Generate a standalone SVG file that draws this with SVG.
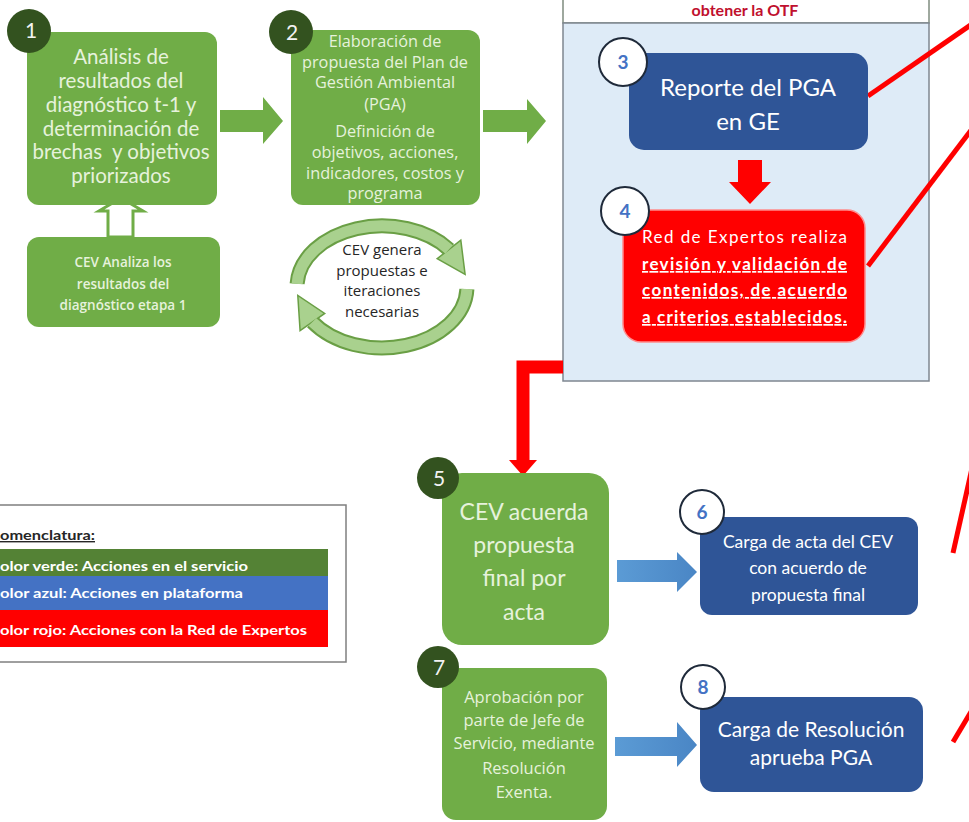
<svg xmlns="http://www.w3.org/2000/svg" width="969" height="822" viewBox="0 0 969 822">
<defs>
<style>
text{font-family:Lato,"Liberation Sans","DejaVu Sans",sans-serif}
.os text{font-family:"Open Sans","Liberation Sans","DejaVu Sans",sans-serif}
.gbox{fill:#70ad47}
.gt{fill:#e6f2dc;text-anchor:middle}
.bbox{fill:#2f5597}
.wt{fill:#ffffff;text-anchor:middle}
.dc{fill:#33521f}
.dn{fill:#f2f2f2;font-size:21px;text-anchor:middle}
.wc{fill:#ffffff;stroke:#1f2a3a;stroke-width:2}
.wn{fill:#4472c4;font-size:19px;font-weight:bold;text-anchor:middle}
.garrow{fill:#70ad47}
.barrow{fill:url(#bg)}
.redline{stroke:#ff0000;stroke-width:5;fill:none}
.lt{fill:#ffffff;font-size:14px;font-weight:bold}
</style>
<linearGradient id="bg" x1="0" y1="0" x2="1" y2="0">
<stop offset="0" stop-color="#5b9bd5"/>
<stop offset="1" stop-color="#4a86c5"/>
</linearGradient>
</defs>
<rect width="969" height="822" fill="#ffffff"/>

<g id="panel">
<rect x="563" y="-2" width="366" height="25" fill="#ffffff" stroke="#7f8c7f" stroke-width="1.5"/>
<text x="745" y="16" font-size="16" font-weight="bold" fill="#c0102e" text-anchor="middle">obtener la OTF</text>
<rect x="563" y="23" width="366" height="358" fill="#deebf7" stroke="#7f8790" stroke-width="1.5"/>
</g>

<g id="connectors">
<polygon class="garrow" points="220,110 263,110 263,97 283,121 263,144 263,132 220,132"/>
<polygon class="garrow" points="483,110 527,110 527,99 546,121 527,144 527,132 483,132"/>
<polygon points="108,237 108,211 99,211 121,198 143,211 133,211 133,237" fill="#ffffff" stroke="#70ad47" stroke-width="3"/>
<g id="cycle">
<path d="M 297.1 283.8 A 85 61 0 0 1 449.0 249.4" fill="none" stroke="#6a9f45" stroke-width="15"/>
<polygon points="460.8,240.2 465.1,274.3 437.2,258.7" fill="#a9d18e" stroke="#6a9f45" stroke-width="1.5"/>
<path d="M 297.1 283.8 A 85 61 0 0 1 449.0 249.4" fill="none" stroke="#a9d18e" stroke-width="11"/>
<path d="M 466.9 289.1 A 85 61 0 0 1 312.4 322.0" fill="none" stroke="#6a9f45" stroke-width="15"/>
<polygon points="300.1,330.6 297.8,295.5 324.7,313.4" fill="#a9d18e" stroke="#6a9f45" stroke-width="1.5"/>
<path d="M 466.9 289.1 A 85 61 0 0 1 312.4 322.0" fill="none" stroke="#a9d18e" stroke-width="11"/>
</g>
<polygon points="738,160 762,160 762,182 771,182 750,204 729,182 738,182" fill="#ff0000"/>
<path d="M 563 367 H 523 V 461" fill="none" stroke="#ff0000" stroke-width="13"/>
<polygon points="509,460 537,460 523,476" fill="#ff0000"/>
<polygon class="barrow" points="617,560 677,560 677,552 697,572 677,592 677,582 617,582"/>
<polygon class="barrow" points="615,737 677,737 677,722 697,745 677,767 677,756 615,756"/>
<line class="redline" x1="868" y1="96" x2="975" y2="22"/>
<line class="redline" x1="868" y1="266" x2="975" y2="125"/>
<line class="redline" x1="953" y1="553" x2="975" y2="455"/>
<line class="redline" x1="953" y1="742" x2="975" y2="705"/>
</g>

<g id="node1">
<rect class="gbox" x="27" y="32" width="190" height="173" rx="12"/>
<circle class="dc" cx="29" cy="31" r="22"/>
<text class="dn" x="31" y="38">1</text>
<g class="gt" font-size="20.5">
<text x="121" y="64">Análisis de</text>
<text x="121" y="88">resultados del</text>
<text x="121" y="112">diagnóstico t-1 y</text>
<text x="121" y="136">determinación de</text>
<text x="121" y="159" style="white-space:pre">brechas  y objetivos</text>
<text x="121" y="183">priorizados</text>
</g>
</g>

<g id="node1b">
<rect class="gbox" x="27" y="237" width="193" height="90" rx="12"/>
<g class="gt os" font-size="13.5" font-weight="600">
<text x="123" y="267">CEV Analiza los</text>
<text x="123" y="289">resultados del</text>
<text x="123" y="310">diagnóstico etapa 1</text>
</g>
</g>

<g id="node2">
<rect class="gbox" x="291" y="30" width="189" height="175" rx="12"/>
<circle class="dc" cx="291" cy="32" r="22"/>
<text class="dn" x="292" y="40">2</text>
<g class="gt os" font-size="16.3">
<text x="385" y="47">Elaboración de</text>
<text x="385" y="68">propuesta del Plan de</text>
<text x="385" y="88">Gestión Ambiental</text>
<text x="385" y="110">(PGA)</text>
<text x="385" y="137">Definición de</text>
<text x="385" y="158">objetivos, acciones,</text>
<text x="385" y="179">indicadores, costos y</text>
<text x="385" y="199">programa</text>
</g>
</g>

<g id="node2b">
<g class="os" fill="#262626" font-size="15" text-anchor="middle">
<text x="382" y="255">CEV genera</text>
<text x="382" y="276">propuestas e</text>
<text x="382" y="296">iteraciones</text>
<text x="382" y="317">necesarias</text>
</g>
</g>

<g id="node3">
<rect class="bbox" x="629" y="53" width="239" height="97" rx="15"/>
<circle class="wc" cx="623" cy="62" r="24"/>
<text class="wn" x="623" y="69">3</text>
<text class="wt" x="748" y="96" font-size="24">Reporte del PGA</text>
<text class="wt" x="748" y="130" font-size="24">en GE</text>
</g>

<g id="node4">
<rect x="623" y="210" width="242" height="132" rx="18" fill="#ff0000" stroke="#ff8c8c" stroke-width="1.5"/>
<circle class="wc" cx="625" cy="211" r="24"/>
<text class="wn" x="625" y="218">4</text>
<g fill="#ffffff" font-size="17">
<text x="642" y="243" textLength="205" lengthAdjust="spacing">Red de Expertos realiza</text>
<text x="642" y="270" textLength="205" lengthAdjust="spacing" font-weight="bold" text-decoration="underline">revisión y validación de</text>
<text x="642" y="296" textLength="205" lengthAdjust="spacing" font-weight="bold" text-decoration="underline">contenidos, de acuerdo</text>
<text x="642" y="323" textLength="205" lengthAdjust="spacing" font-weight="bold" text-decoration="underline">a criterios establecidos.</text>
</g>
</g>

<g id="legend">
<rect x="-2" y="505" width="348" height="157" fill="#ffffff" stroke="#7f7f7f" stroke-width="1.5"/>
<text x="0" y="540" font-size="14" font-weight="bold" fill="#262626" text-decoration="underline" textLength="95" lengthAdjust="spacingAndGlyphs">omenclatura:</text>
<rect x="-2" y="549" width="330" height="27" fill="#548235"/>
<rect x="-2" y="576" width="330" height="34" fill="#4472c4"/>
<rect x="-2" y="610" width="330" height="37" fill="#ff0000"/>
<text class="lt" x="0" y="571" textLength="248" lengthAdjust="spacingAndGlyphs">olor verde: Acciones en el servicio</text>
<text class="lt" x="0" y="598" textLength="243" lengthAdjust="spacingAndGlyphs">olor azul: Acciones en plataforma</text>
<text class="lt" x="0" y="635" textLength="307" lengthAdjust="spacingAndGlyphs">olor rojo: Acciones con la Red de Expertos</text>
</g>

<g id="node5">
<rect class="gbox" x="442" y="473" width="167" height="172" rx="20"/>
<circle class="dc" cx="438" cy="478" r="21"/>
<text class="dn" x="439" y="486">5</text>
<g class="gt" font-size="23">
<text x="524" y="520">CEV acuerda</text>
<text x="524" y="553">propuesta</text>
<text x="524" y="586">final por</text>
<text x="524" y="620">acta</text>
</g>
</g>

<g id="node6">
<rect class="bbox" x="700" y="517" width="218" height="98" rx="12"/>
<circle class="wc" cx="702" cy="512" r="22"/>
<text class="wn" x="702" y="519">6</text>
<g class="wt" font-size="17.5">
<text x="808" y="548">Carga de acta del CEV</text>
<text x="808" y="574">con acuerdo de</text>
<text x="808" y="601">propuesta final</text>
</g>
</g>

<g id="node7">
<rect class="gbox" x="442" y="668" width="165" height="152" rx="14"/>
<circle class="dc" cx="438" cy="667" r="21"/>
<text class="dn" x="439" y="675">7</text>
<g class="gt os" font-size="16.5">
<text x="524" y="703">Aprobación por</text>
<text x="524" y="726">parte de Jefe de</text>
<text x="524" y="749">Servicio, mediante</text>
<text x="524" y="774">Resolución</text>
<text x="524" y="798">Exenta.</text>
</g>
</g>

<g id="node8">
<rect class="bbox" x="700" y="697" width="223" height="95" rx="14"/>
<circle class="wc" cx="703" cy="687" r="22"/>
<text class="wn" x="703" y="694">8</text>
<g class="wt" font-size="21">
<text x="811" y="737">Carga de Resolución</text>
<text x="811" y="765">aprueba PGA</text>
</g>
</g>
</svg>
